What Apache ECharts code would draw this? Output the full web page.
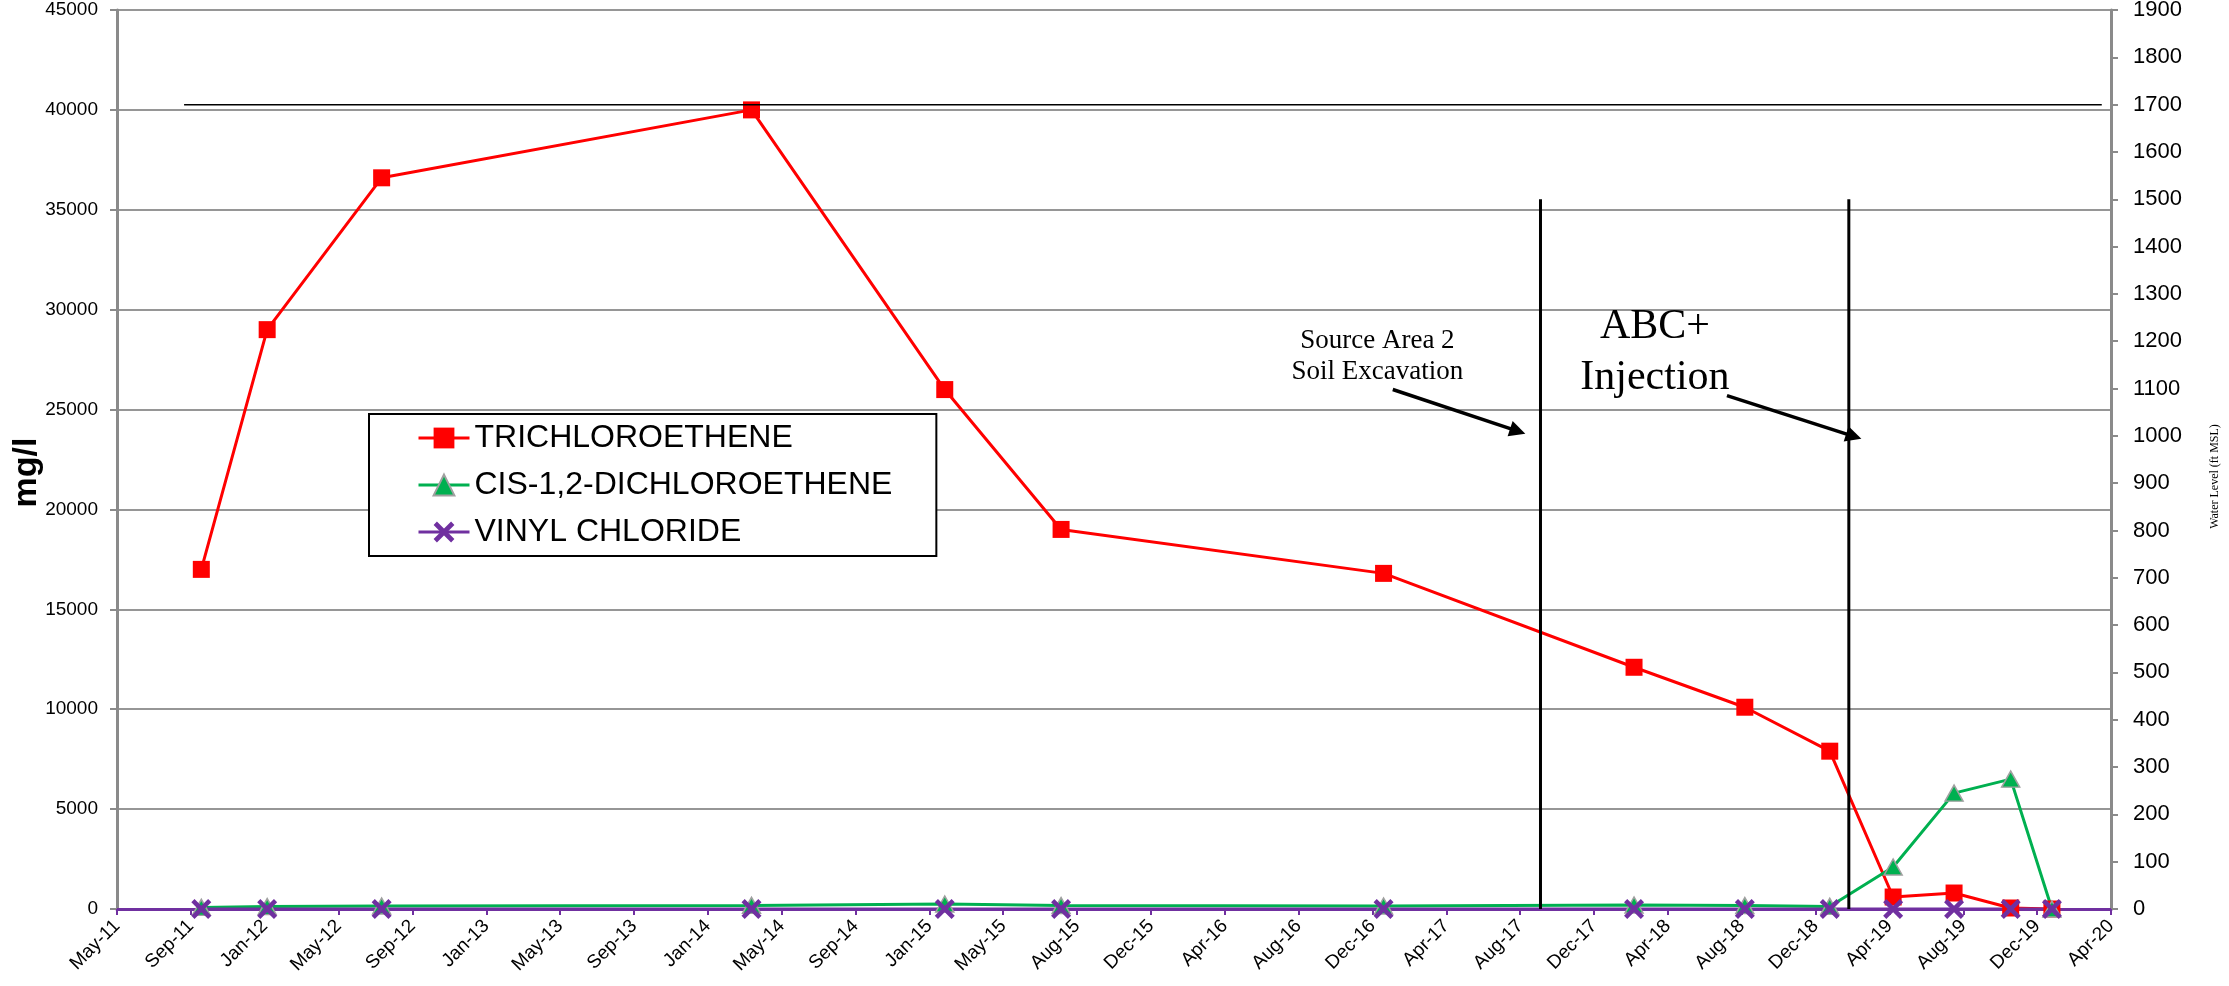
<!DOCTYPE html>
<html>
<head>
<meta charset="utf-8">
<title>Chlorinated ethenes – concentration history</title>
<script src="https://cdn.jsdelivr.net/npm/echarts/dist/echarts.min.js"></script>
<style>
  html, body { margin: 0; padding: 0; background: #ffffff; }
  #chart { width: 2229px; height: 986px; }
</style>
</head>
<body>
<div id="chart"></div>
<script>
// ---- data -------------------------------------------------------------
// Sampling dates and concentrations (mg/l)
const sampleDates = [
  '2011-10-06', '2012-01-21', '2012-07-25', '2014-03-18', '2015-01-26',
  '2015-08-03', '2017-01-08', '2018-02-19', '2018-08-18', '2019-01-03',
  '2019-04-16', '2019-07-24', '2019-10-24', '2019-12-30'
];
const tce = [17000, 29000, 36600, 40000, 26000, 19000, 16800, 12100, 10100, 7900, 600, 800, 50, 0];
const dce = [80, 120, 150, 180, 250, 170, 150, 200, 170, 130, 2100, 5800, 6500, 0];
const vc  = [0, 0, 0, 0, 0, 0, 0, 0, 0, 0, 0, 0, 0, 0];

// Water level (ft MSL), secondary axis
const waterLevelDates = ['2011-09-08', '2020-03-20'];
const waterLevel = [1700, 1700];

// Remediation events, drawn as vertical markers on the secondary axis
const eventNames = ['Source Area 2\nSoil Excavation', 'ABC+\nInjection'];
const eventDates = ['2017-09-20', '2019-02-03'];
const eventMarkerTop = 1500;

// Axis ticks
const dateAxisStart = '2011-05-22';
const dateTickDays = 120;
const dateTickCount = 27;
const concTicks = { min: 0, max: 45000, step: 5000 };
const levelTicks = { min: 0, max: 1900, step: 100 };

// ---- helpers ----------------------------------------------------------
const DAY_MS = 86400000;
const MONTHS = ['Jan','Feb','Mar','Apr','May','Jun','Jul','Aug','Sep','Oct','Nov','Dec'];
function utc(s) { const [y, m, d] = s.split('-').map(Number); return Date.UTC(y, m - 1, d); }
const originMs = utc(dateAxisStart);
// x values are whole days counted from the first date tick
function dayOf(s) { return Math.round((utc(s) - originMs) / DAY_MS); }
function dayLabel(v) {
  const dt = new Date(originMs + v * DAY_MS);
  return MONTHS[dt.getUTCMonth()] + '-' + String(dt.getUTCFullYear() % 100).padStart(2, '0');
}
function plain(v) { return String(v); }
function pairs(dates, values) { return dates.map((d, i) => [dayOf(d), values[i]]); }

// Label / arrow placement for the two event notes (x in days, y on the water-level axis)
const notePlacement = [
  { text: [2048, 1168], from: [2073, 1098], to: [2276, 1010], size: 27, lineHeight: 31 },
  { text: [2499, 1177], from: [2616, 1085], to: [2822, 999],  size: 42, lineHeight: 51 }
];

// X-shaped marker used for vinyl chloride
const crossMarker = 'path://M0,1.6 L1.6,0 L10,8.4 L8.4,10 Z M8.4,0 L10,1.6 L1.6,10 L0,8.4 Z';

const FONT = 'Liberation Sans, Arial, sans-serif';
const SERIF = 'Liberation Serif, Times New Roman, serif';
const AXIS_GREY = '#8a8a8a';

// ---- chart ------------------------------------------------------------
const chart = echarts.init(document.getElementById('chart'), null, { renderer: 'canvas' });

const eventSeries = eventDates.map((d, i) => ({
  name: 'event-' + i,
  type: 'line',
  yAxisIndex: 1,
  data: [[dayOf(d), 0], [dayOf(d), eventMarkerTop]],
  symbol: 'none',
  lineStyle: { color: '#000000', width: 3 },
  silent: true,
  z: 5
}));

chart.setOption({
  animation: false,
  backgroundColor: '#ffffff',
  grid: { left: 117, right: 118, top: 10, bottom: 77, containLabel: false, outerBoundsMode: 'none' },
  legend: {
    data: ['TRICHLOROETHENE', 'CIS-1,2-DICHLOROETHENE', 'VINYL CHLORIDE'],
    orient: 'vertical',
    left: 369,
    top: 414,
    padding: [8, 44, 8, 48],
    itemGap: 15,
    itemWidth: 51,
    itemHeight: 26,
    borderColor: '#000000',
    borderWidth: 2,
    backgroundColor: '#ffffff',
    selectedMode: false,
    lineStyle: { width: 3 },
    textStyle: { fontFamily: FONT, fontSize: 32, lineHeight: 32, color: '#000000' }
  },
  xAxis: {
    type: 'value',
    min: 0,
    max: dateTickDays * dateTickCount,
    interval: dateTickDays,
    axisLine: { show: true, onZero: false, lineStyle: { color: '#7030A0', width: 3 } },
    axisTick: { show: true, length: 6, lineStyle: { color: '#7030A0', width: 2 } },
    axisLabel: {
      rotate: 45, margin: 14, fontFamily: FONT, fontSize: 19, color: '#000000',
      formatter: dayLabel, showMinLabel: true, showMaxLabel: true, hideOverlap: false
    },
    splitLine: { show: false }
  },
  yAxis: [
    {
      type: 'value',
      position: 'left',
      min: concTicks.min, max: concTicks.max, interval: concTicks.step,
      name: 'mg/l',
      nameLocation: 'middle',
      nameRotate: 90,
      nameGap: 73,
      nameMoveOverlap: false,
      nameTextStyle: { fontFamily: FONT, fontWeight: 'bold', fontSize: 34, color: '#000000', padding: [0, 26, 0, 0] },
      axisLine: { show: true, lineStyle: { color: AXIS_GREY, width: 3 } },
      axisTick: { show: true, length: 7, lineStyle: { color: AXIS_GREY, width: 2 } },
      axisLabel: { margin: 19, fontFamily: FONT, fontSize: 19, color: '#000000', formatter: plain },
      splitLine: { show: true, lineStyle: { color: '#969696', width: 2 } }
    },
    {
      type: 'value',
      position: 'right',
      min: levelTicks.min, max: levelTicks.max, interval: levelTicks.step,
      name: 'Water Level (ft MSL)',
      nameLocation: 'middle',
      nameRotate: 90,
      nameGap: 98,
      nameTextStyle: { fontFamily: SERIF, fontSize: 12, color: '#000000', padding: [0, 34, 0, 0] },
      axisLine: { show: true, lineStyle: { color: AXIS_GREY, width: 3 } },
      axisTick: { show: true, length: 7, lineStyle: { color: AXIS_GREY, width: 2 } },
      axisLabel: { margin: 22, align: 'left', fontFamily: FONT, fontSize: 22, color: '#000000', formatter: plain },
      splitLine: { show: false }
    }
  ],
  series: [
    {
      name: 'TRICHLOROETHENE',
      type: 'line',
      data: pairs(sampleDates, tce),
      symbol: 'rect',
      symbolSize: 17,
      showSymbol: true,
      lineStyle: { color: '#FF0000', width: 3 },
      itemStyle: { color: '#FF0000' },
      z: 3
    },
    {
      name: 'CIS-1,2-DICHLOROETHENE',
      type: 'line',
      data: pairs(sampleDates, dce),
      symbol: 'triangle',
      symbolSize: [18, 16],
      showSymbol: true,
      lineStyle: { color: '#00B050', width: 3 },
      itemStyle: { color: '#00B050', borderColor: '#A0A0A0', borderWidth: 1.5 },
      z: 3
    },
    {
      name: 'VINYL CHLORIDE',
      type: 'line',
      data: pairs(sampleDates, vc),
      symbol: crossMarker,
      symbolSize: 20,
      showSymbol: true,
      lineStyle: { color: '#7030A0', width: 3 },
      itemStyle: { color: '#7030A0' },
      z: 3
    },
    {
      name: 'Water Level',
      type: 'line',
      yAxisIndex: 1,
      data: pairs(waterLevelDates, waterLevel),
      symbol: 'none',
      lineStyle: { color: '#000000', width: 1.5 },
      silent: true,
      z: 4,
      markLine: {
        silent: true,
        symbol: ['none', 'triangle'],
        symbolSize: 16,
        label: { show: false },
        lineStyle: { color: '#000000', width: 3.5, type: 'solid' },
        data: notePlacement.map(n => [{ coord: n.from }, { coord: n.to }])
      },
      markPoint: {
        silent: true,
        symbol: 'circle',
        symbolSize: 1,
        itemStyle: { color: 'rgba(0,0,0,0)' },
        data: notePlacement.map((n, i) => ({
          name: eventNames[i],
          coord: n.text,
          label: {
            show: true,
            position: 'inside',
            formatter: p => p.name,
            fontFamily: SERIF,
            fontSize: n.size,
            lineHeight: n.lineHeight,
            color: '#000000',
            align: 'center',
            verticalAlign: 'middle'
          }
        }))
      }
    },
    ...eventSeries
  ]
});
</script>
</body>
</html>
